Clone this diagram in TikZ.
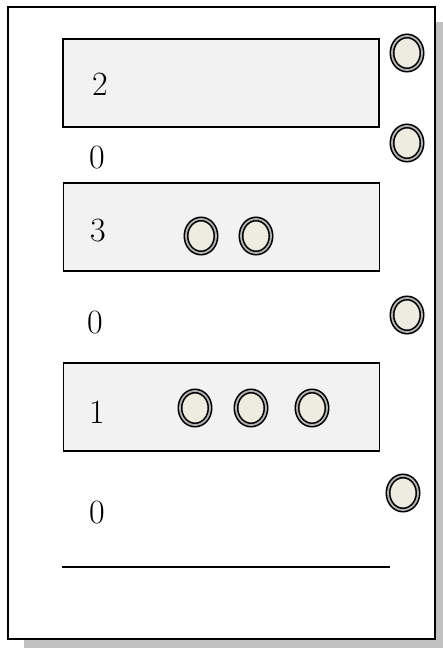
\documentclass[tikz,border=0pt]{standalone}
\usepackage{tikz}
\usetikzlibrary{shapes.geometric, positioning}

\definecolor{cream}{RGB}{238,235,224}
\definecolor{shadowgray}{RGB}{192,192,192}

\begin{document}
\begin{tikzpicture}[
    x=1pt, y=-1pt,
    stackbox/.style = {rectangle, draw=black, line width=1.2pt, fill=black!5, minimum width=316pt, minimum height=88pt, inner sep=0pt},
    plate/.style = {ellipse, draw=black, line width=1.6pt, double=gray!60, double distance=1.8pt, fill=cream, minimum width=30pt, minimum height=34pt, inner sep=0pt},
    digit/.style = {inner sep=0pt, font=\fontsize{34}{38}\selectfont}
]

\useasboundingbox (0, 0) rectangle (443, 648);

% page with shadow
\fill [shadowgray] (24, 22) rectangle (452, 656);
\draw [line width=1.8pt, fill=white] (8, 7) rectangle (435, 639);

% boxes
\node [stackbox] (b2) at (221, 83) {};
\node [stackbox] (b3) at (221.5, 227) {};
\node [stackbox] (b1) at (221.5, 407) {};

\node [digit] (t2) at (100, 84) {2};
\node [digit] (t3) at (98, 231) {3};
\node [digit] (t1) at (97, 412) {1};

\node [digit] (z1) at (97, 158) {0};
\node [digit] (z2) at (95, 323) {0};
\node [digit] (z3) at (97, 513) {0};

% plates in boxes
\node [plate] (p31) at (201, 236) {};
\node [plate] (p32) at (256, 236) {};

\node [plate] (p11) at (195, 408) {};
\node [plate] (p12) at (251, 408) {};
\node [plate] (p13) at (312, 408) {};

% plates at the right
\node [plate] (r1) at (407, 53) {};
\node [plate] (r2) at (407, 143) {};
\node [plate] (r3) at (407, 315) {};
\node [plate] (r4) at (403, 493) {};

% base line
\coordinate (l1) at (62, 567);
\coordinate (l2) at (390, 567);
\draw [line width=1.3pt] (l1) -- (l2);

\end{tikzpicture}
\end{document}
